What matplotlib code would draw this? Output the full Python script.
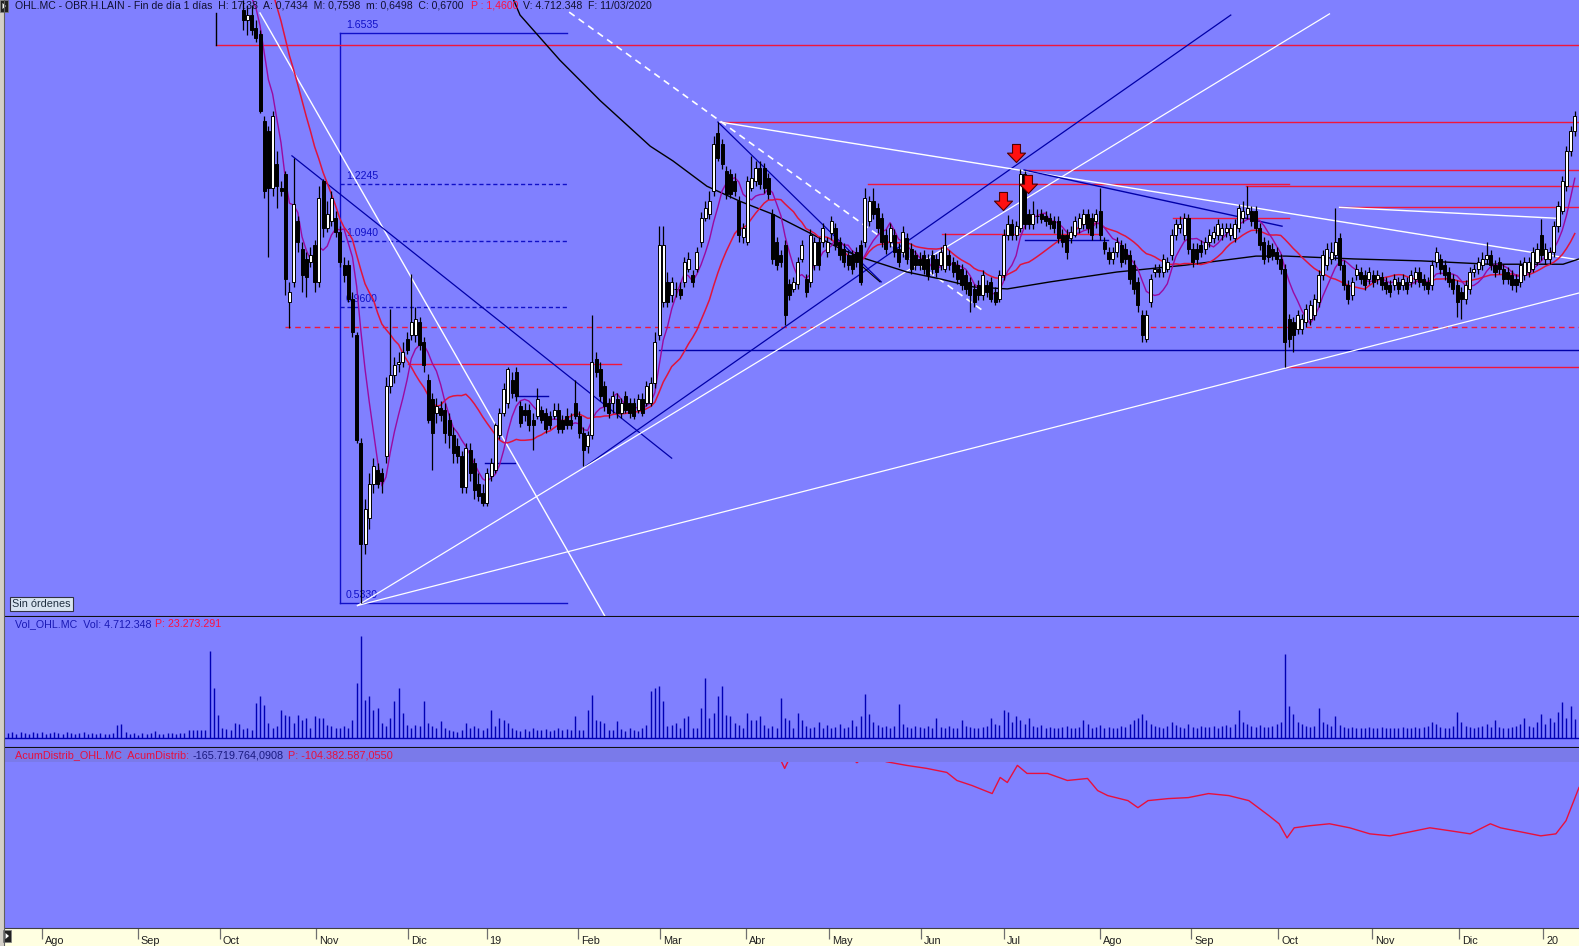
import numpy as np
import pandas as pd
import matplotlib
matplotlib.use("Agg")
import matplotlib.pyplot as plt
from matplotlib.path import Path
from matplotlib.patches import Rectangle, Polygon

W, H, DPI = 1579, 946, 100
FONT = ["Liberation Sans", "DejaVu Sans"]
PANEL = "#8080ff"
BAND = "#7a7aea"
RED = "#f0163c"
DBLUE = "#0000a8"
FIBBLUE = "#1010c8"
TXT = "#101030"

# ---- daily bars, index 0 = late Jul 2018 ----
OPEN = [
    2.60, 2.62, 2.64, 2.60, 2.58, 2.61, 2.66, 2.70, 2.68, 2.72,
    2.75, 2.73, 2.70, 2.68, 2.71, 2.74, 2.76, 2.72, 2.69, 2.66,
    2.64, 2.67, 2.70, 2.68, 2.65, 2.62, 2.60, 2.55, 2.50, 2.52,
    2.54, 2.56, 2.53, 2.50, 2.48, 2.51, 2.49, 2.46, 2.44, 2.42,
    2.40, 2.38, 2.35, 2.32, 2.28, 2.24, 2.20, 2.15, 2.10, 2.05,
    2.00, 1.95, 1.90, 1.87, 1.85, 1.82, 1.731, 1.697, 1.714, 1.670,
    1.650, 1.389, 1.362, 1.215, 1.275, 1.215, 1.250, 0.969, 1.009, 1.138,
    1.078, 1.056, 1.050, 1.086, 1.009, 1.232, 1.122, 1.138, 1.145, 1.115,
    1.044, 1.044, 0.975, 0.908, 0.733, 0.600, 0.631, 0.676, 0.694, 0.690,
    0.714, 0.821, 0.838, 0.857, 0.860, 0.900, 0.908, 0.908, 0.931, 0.895,
    0.831, 0.799, 0.778, 0.786, 0.783, 0.767, 0.744, 0.729, 0.714, 0.672,
    0.722, 0.704, 0.676, 0.663, 0.650, 0.686, 0.694, 0.744, 0.778, 0.794,
    0.831, 0.843, 0.789, 0.783, 0.783, 0.767, 0.773, 0.783, 0.778, 0.773,
    0.773, 0.783, 0.767, 0.773, 0.767, 0.794, 0.773, 0.748, 0.729, 0.744,
    0.865, 0.848, 0.821, 0.794, 0.794, 0.799, 0.778, 0.805, 0.794, 0.794,
    0.783, 0.799, 0.794, 0.794, 0.826, 0.908, 0.969, 1.009, 0.983, 0.995,
    0.995, 1.009, 1.035, 1.023, 1.035, 1.093, 1.145, 1.154, 1.208, 1.356,
    1.327, 1.257, 1.250, 1.232, 1.184, 1.102, 1.093, 1.215, 1.232, 1.265,
    1.265, 1.240, 1.154, 1.093, 1.065, 1.086, 1.005, 0.995, 1.005, 1.056,
    1.015, 1.009, 1.044, 1.093, 1.093, 1.071, 1.111, 1.122, 1.093, 1.078,
    1.065, 1.065, 1.071, 1.086, 1.093, 1.138, 1.184, 1.168, 1.145, 1.108,
    1.093, 1.108, 1.078, 1.071, 1.100, 1.078, 1.065, 1.056, 1.065, 1.056,
    1.065, 1.056, 1.044, 1.035, 1.065, 1.050, 1.044, 1.035, 1.023, 1.009,
    0.995, 1.003, 0.983, 1.003, 1.009, 0.989, 0.975, 1.023, 1.108, 1.131,
    1.108, 1.122, 1.250, 1.154, 1.131, 1.150, 1.154, 1.150, 1.145, 1.138,
    1.138, 1.108, 1.108, 1.100, 1.108, 1.122, 1.131, 1.154, 1.145, 1.138,
    1.161, 1.093, 1.071, 1.056, 1.071, 1.086, 1.078, 1.065, 1.044, 1.009,
    0.944, 0.900, 0.969, 1.029, 1.035, 1.029, 1.035, 1.065, 1.108, 1.122,
    1.108, 1.145, 1.078, 1.078, 1.086, 1.078, 1.093, 1.100, 1.108, 1.108,
    1.115, 1.108, 1.100, 1.122, 1.145, 1.154, 1.161, 1.161, 1.122, 1.093,
    1.086, 1.078, 1.071, 1.056, 1.035, 0.937, 0.931, 0.919, 0.919, 0.931,
    0.937, 0.944, 0.969, 1.023, 1.044, 1.056, 1.065, 1.100, 1.044, 1.003,
    0.983, 1.023, 1.029, 1.023, 1.015, 1.023, 1.015, 1.019, 1.009, 1.003,
    1.003, 1.009, 1.003, 1.009, 1.009, 1.015, 1.029, 1.015, 1.009, 1.003,
    1.050, 1.056, 1.044, 1.029, 1.015, 1.003, 0.989, 0.975, 0.995, 1.029,
    1.035, 1.044, 1.056, 1.065, 1.044, 1.050, 1.035, 1.029, 1.023, 1.015,
    1.009, 1.023, 1.029, 1.035, 1.050, 1.108, 1.056, 1.056, 1.071, 1.127,
    1.161, 1.220, 1.309, 1.362,
]
HIGH = [
    2.65, 2.67, 2.67, 2.63, 2.64, 2.69, 2.73, 2.73, 2.75, 2.78,
    2.78, 2.76, 2.73, 2.74, 2.77, 2.79, 2.79, 2.75, 2.72, 2.69,
    2.70, 2.73, 2.73, 2.71, 2.68, 2.65, 2.63, 2.58, 2.55, 2.57,
    2.59, 2.59, 2.56, 2.53, 2.54, 2.54, 2.52, 2.49, 2.47, 2.45,
    2.43, 2.41, 2.38, 2.35, 2.31, 2.27, 2.23, 2.18, 2.13, 2.08,
    2.03, 1.98, 1.93, 1.90, 1.88, 1.85, 1.766, 1.748, 1.748, 1.697,
    1.663, 1.403, 1.375, 1.418, 1.309, 1.232, 1.257, 1.009, 1.291, 1.150,
    1.093, 1.071, 1.082, 1.097, 1.220, 1.237, 1.184, 1.208, 1.161, 1.127,
    1.061, 1.054, 0.989, 0.913, 0.740, 0.656, 0.690, 0.711, 0.704, 0.697,
    0.835, 0.956, 0.869, 0.877, 0.895, 0.913, 1.025, 0.960, 0.941, 0.904,
    0.840, 0.810, 0.802, 0.797, 0.794, 0.778, 0.756, 0.740, 0.721, 0.733,
    0.733, 0.711, 0.690, 0.676, 0.697, 0.711, 0.763, 0.786, 0.826, 0.852,
    0.843, 0.852, 0.797, 0.794, 0.791, 0.778, 0.818, 0.789, 0.786, 0.781,
    0.794, 0.794, 0.775, 0.786, 0.778, 0.831, 0.781, 0.756, 0.751, 0.944,
    0.877, 0.860, 0.829, 0.802, 0.813, 0.810, 0.802, 0.813, 0.802, 0.802,
    0.807, 0.810, 0.829, 0.835, 0.913, 1.127, 1.127, 1.029, 1.019, 1.009,
    1.009, 1.061, 1.071, 1.033, 1.082, 1.159, 1.184, 1.208, 1.348, 1.386,
    1.340, 1.270, 1.262, 1.252, 1.196, 1.134, 1.245, 1.296, 1.283, 1.283,
    1.278, 1.252, 1.166, 1.104, 1.076, 1.097, 1.015, 1.019, 1.061, 1.097,
    1.025, 1.120, 1.104, 1.104, 1.134, 1.104, 1.150, 1.134, 1.104, 1.089,
    1.076, 1.076, 1.082, 1.097, 1.215, 1.196, 1.215, 1.179, 1.157, 1.120,
    1.134, 1.120, 1.089, 1.127, 1.111, 1.089, 1.076, 1.071, 1.076, 1.067,
    1.076, 1.067, 1.082, 1.111, 1.076, 1.061, 1.054, 1.046, 1.033, 1.019,
    1.005, 1.013, 1.033, 1.013, 1.019, 0.999, 1.033, 1.120, 1.152, 1.143,
    1.138, 1.262, 1.257, 1.166, 1.184, 1.166, 1.166, 1.161, 1.157, 1.150,
    1.150, 1.120, 1.120, 1.127, 1.150, 1.157, 1.166, 1.166, 1.157, 1.166,
    1.215, 1.104, 1.082, 1.082, 1.104, 1.097, 1.089, 1.076, 1.054, 1.019,
    0.954, 0.954, 1.025, 1.046, 1.046, 1.067, 1.061, 1.120, 1.143, 1.150,
    1.157, 1.154, 1.089, 1.089, 1.097, 1.104, 1.120, 1.127, 1.143, 1.134,
    1.134, 1.134, 1.143, 1.177, 1.184, 1.220, 1.173, 1.173, 1.134, 1.104,
    1.097, 1.089, 1.082, 1.067, 1.046, 0.946, 0.941, 0.954, 0.946, 0.965,
    0.973, 0.985, 1.033, 1.076, 1.089, 1.093, 1.168, 1.111, 1.054, 1.013,
    1.019, 1.046, 1.040, 1.033, 1.040, 1.033, 1.033, 1.029, 1.019, 1.013,
    1.025, 1.019, 1.025, 1.019, 1.033, 1.040, 1.040, 1.025, 1.019, 1.054,
    1.082, 1.067, 1.054, 1.040, 1.025, 1.013, 0.999, 1.013, 1.040, 1.046,
    1.061, 1.071, 1.093, 1.076, 1.054, 1.061, 1.046, 1.040, 1.033, 1.025,
    1.054, 1.061, 1.061, 1.082, 1.089, 1.143, 1.089, 1.082, 1.138, 1.184,
    1.245, 1.322, 1.375, 1.418,
]
LOW = [
    2.57, 2.59, 2.57, 2.55, 2.55, 2.58, 2.63, 2.65, 2.65, 2.69,
    2.70, 2.67, 2.65, 2.65, 2.68, 2.71, 2.69, 2.66, 2.63, 2.61,
    2.61, 2.64, 2.65, 2.62, 2.59, 2.57, 2.52, 2.47, 2.47, 2.49,
    2.51, 2.50, 2.47, 2.45, 2.45, 2.46, 2.43, 2.41, 2.39, 2.37,
    2.35, 2.32, 2.29, 2.25, 2.21, 2.17, 2.12, 2.07, 2.02, 1.97,
    1.92, 1.87, 1.84, 1.82, 1.79, 1.77, 1.663, 1.647, 1.647, 1.624,
    1.412, 1.191, 1.061, 1.196, 1.168, 1.196, 0.983, 0.920, 0.999, 1.071,
    0.989, 0.979, 1.040, 0.989, 0.999, 1.104, 1.115, 1.127, 1.104, 1.040,
    1.009, 0.969, 0.904, 0.733, 0.533, 0.588, 0.618, 0.663, 0.670, 0.663,
    0.704, 0.810, 0.826, 0.843, 0.852, 0.874, 0.899, 0.895, 0.881, 0.843,
    0.763, 0.694, 0.763, 0.766, 0.733, 0.725, 0.704, 0.704, 0.663, 0.663,
    0.679, 0.656, 0.653, 0.646, 0.646, 0.679, 0.690, 0.739, 0.773, 0.786,
    0.802, 0.797, 0.756, 0.766, 0.751, 0.722, 0.769, 0.763, 0.748, 0.754,
    0.769, 0.748, 0.748, 0.754, 0.754, 0.769, 0.740, 0.700, 0.718, 0.739,
    0.835, 0.797, 0.781, 0.770, 0.778, 0.770, 0.770, 0.778, 0.770, 0.769,
    0.778, 0.773, 0.789, 0.789, 0.818, 0.899, 0.960, 0.960, 0.969, 0.979,
    0.975, 0.999, 1.029, 0.999, 1.029, 1.082, 1.138, 1.143, 1.196, 1.283,
    1.262, 1.189, 1.191, 1.196, 1.093, 1.089, 1.086, 1.208, 1.220, 1.213,
    1.203, 1.189, 1.046, 1.033, 1.040, 0.926, 0.973, 0.989, 0.995, 1.050,
    0.979, 0.999, 1.033, 1.033, 1.082, 1.061, 1.097, 1.076, 1.054, 1.040,
    1.033, 1.025, 1.040, 1.003, 1.082, 1.127, 1.143, 1.111, 1.082, 1.067,
    1.082, 1.061, 1.040, 1.061, 1.046, 1.025, 1.033, 1.033, 1.025, 1.013,
    1.025, 1.019, 1.033, 1.029, 1.033, 1.019, 1.005, 0.993, 0.985, 0.950,
    0.960, 0.973, 0.973, 0.979, 0.969, 0.963, 0.969, 1.013, 1.097, 1.097,
    1.097, 1.115, 1.120, 1.120, 1.120, 1.134, 1.134, 1.127, 1.120, 1.111,
    1.089, 1.082, 1.056, 1.089, 1.102, 1.111, 1.120, 1.111, 1.097, 1.122,
    1.097, 1.067, 1.046, 1.046, 1.061, 1.040, 1.046, 1.005, 0.985, 0.950,
    0.895, 0.895, 0.960, 1.019, 1.019, 1.019, 1.029, 1.054, 1.097, 1.111,
    1.097, 1.067, 1.040, 1.046, 1.061, 1.067, 1.082, 1.089, 1.097, 1.097,
    1.104, 1.097, 1.093, 1.115, 1.134, 1.143, 1.127, 1.111, 1.076, 1.046,
    1.050, 1.054, 1.046, 1.025, 0.852, 0.886, 0.877, 0.910, 0.910, 0.922,
    0.927, 0.935, 0.960, 1.013, 1.033, 1.046, 1.054, 1.033, 0.993, 0.965,
    0.973, 1.013, 1.005, 0.993, 1.005, 0.999, 1.005, 0.993, 0.985, 0.979,
    0.993, 0.985, 0.993, 0.985, 0.999, 1.005, 0.999, 0.993, 0.985, 0.993,
    1.040, 1.025, 1.013, 0.999, 0.985, 0.941, 0.937, 0.965, 0.985, 1.019,
    1.025, 1.033, 1.046, 1.033, 1.019, 1.025, 1.005, 1.005, 0.993, 0.989,
    0.999, 1.013, 1.019, 1.029, 1.044, 1.054, 1.046, 1.046, 1.061, 1.115,
    1.154, 1.208, 1.296, 1.348,
]
CLOSE = [
    2.62, 2.64, 2.60, 2.58, 2.61, 2.66, 2.70, 2.68, 2.72, 2.75,
    2.73, 2.70, 2.68, 2.71, 2.74, 2.76, 2.72, 2.69, 2.66, 2.64,
    2.67, 2.70, 2.68, 2.65, 2.62, 2.60, 2.55, 2.50, 2.52, 2.54,
    2.56, 2.53, 2.50, 2.48, 2.51, 2.49, 2.46, 2.44, 2.42, 2.40,
    2.38, 2.35, 2.32, 2.28, 2.24, 2.20, 2.15, 2.10, 2.05, 2.00,
    1.95, 1.90, 1.87, 1.85, 1.82, 1.80, 1.697, 1.714, 1.663, 1.637,
    1.418, 1.208, 1.215, 1.403, 1.220, 1.208, 1.015, 0.989, 1.177, 1.093,
    1.023, 1.019, 1.065, 1.009, 1.191, 1.122, 1.154, 1.191, 1.115, 1.050,
    1.023, 0.975, 0.913, 0.737, 0.600, 0.643, 0.676, 0.700, 0.676, 0.679,
    0.821, 0.838, 0.855, 0.860, 0.877, 0.882, 0.931, 0.937, 0.890, 0.855,
    0.767, 0.748, 0.789, 0.775, 0.748, 0.744, 0.718, 0.714, 0.672, 0.725,
    0.690, 0.667, 0.659, 0.650, 0.690, 0.704, 0.759, 0.778, 0.815, 0.848,
    0.810, 0.805, 0.763, 0.775, 0.759, 0.759, 0.799, 0.767, 0.753, 0.759,
    0.783, 0.753, 0.753, 0.759, 0.759, 0.773, 0.748, 0.722, 0.744, 0.860,
    0.843, 0.805, 0.789, 0.778, 0.805, 0.778, 0.794, 0.783, 0.778, 0.773,
    0.799, 0.778, 0.821, 0.826, 0.895, 1.086, 1.086, 0.969, 1.009, 0.995,
    0.983, 1.050, 1.056, 1.009, 1.071, 1.145, 1.168, 1.184, 1.327, 1.291,
    1.275, 1.201, 1.201, 1.208, 1.108, 1.122, 1.232, 1.240, 1.265, 1.225,
    1.215, 1.201, 1.056, 1.044, 1.050, 0.944, 0.983, 1.009, 1.050, 1.086,
    0.989, 1.108, 1.093, 1.044, 1.122, 1.093, 1.138, 1.086, 1.065, 1.050,
    1.044, 1.035, 1.050, 1.009, 1.191, 1.184, 1.154, 1.122, 1.093, 1.078,
    1.122, 1.071, 1.050, 1.115, 1.056, 1.035, 1.044, 1.044, 1.035, 1.023,
    1.035, 1.029, 1.071, 1.086, 1.044, 1.029, 1.015, 1.003, 0.995, 0.983,
    0.969, 0.983, 1.023, 0.989, 0.975, 0.969, 1.023, 1.108, 1.131, 1.108,
    1.127, 1.250, 1.131, 1.131, 1.154, 1.150, 1.143, 1.138, 1.131, 1.122,
    1.100, 1.093, 1.071, 1.115, 1.138, 1.145, 1.154, 1.122, 1.108, 1.154,
    1.108, 1.078, 1.056, 1.071, 1.093, 1.050, 1.056, 1.015, 0.995, 0.963,
    0.908, 0.944, 1.015, 1.035, 1.029, 1.056, 1.050, 1.108, 1.131, 1.131,
    1.145, 1.078, 1.050, 1.056, 1.071, 1.093, 1.108, 1.115, 1.131, 1.122,
    1.122, 1.122, 1.131, 1.168, 1.161, 1.168, 1.138, 1.122, 1.086, 1.056,
    1.061, 1.065, 1.056, 1.035, 0.895, 0.900, 0.908, 0.944, 0.937, 0.956,
    0.963, 0.975, 1.023, 1.065, 1.078, 1.071, 1.093, 1.044, 1.003, 0.975,
    1.009, 1.035, 1.015, 1.003, 1.029, 1.009, 1.023, 1.003, 0.995, 0.989,
    1.015, 0.995, 1.015, 0.995, 1.023, 1.029, 1.009, 1.003, 0.995, 1.044,
    1.071, 1.035, 1.023, 1.009, 0.995, 0.969, 0.975, 1.003, 1.029, 1.035,
    1.050, 1.056, 1.065, 1.044, 1.029, 1.035, 1.015, 1.015, 1.003, 1.003,
    1.044, 1.050, 1.050, 1.071, 1.078, 1.065, 1.078, 1.071, 1.127, 1.172,
    1.232, 1.309, 1.362, 1.403,
]
# volume, millions of shares
VOLUME = [
    1.2, 1.5, 1.0, 1.6, 1.3, 1.1, 1.4, 1.2, 1.5, 1.0,
    1.3, 1.6, 1.2, 1.1, 1.4, 1.3, 1.0, 1.2, 1.5, 1.1,
    1.3, 0.9, 1.2, 1.0, 1.1, 1.3, 3.3, 3.6, 1.5, 1.0,
    1.2, 0.8, 1.3, 1.0, 1.2, 1.7, 1.1, 1.0, 1.3, 1.2,
    1.1, 1.3, 1.2, 1.9, 2.0, 2.1, 2.0, 1.9, 21.7, 12.5,
    5.8, 2.5, 2.3, 2.0, 3.7, 3.5, 2.2, 2.5, 2.0, 8.8,
    10.4, 8.3, 3.7, 2.5, 2.9, 7.0, 5.8, 5.4, 3.7, 5.8,
    4.6, 5.0, 2.5, 5.4, 5.0, 5.0, 3.3, 2.9, 2.5, 2.5,
    2.9, 2.5, 4.6, 13.7, 25.4, 9.6, 10.4, 7.0, 7.5, 3.7,
    2.9, 5.0, 9.2, 12.5, 6.3, 3.3, 2.5, 3.3, 2.9, 9.2,
    3.7, 3.0, 2.5, 4.2, 2.5, 2.0, 1.7, 1.5, 2.0, 3.7,
    2.5, 2.9, 2.5, 2.0, 2.5, 7.0, 2.9, 5.0, 4.6, 3.7,
    2.5, 2.0, 1.8, 2.2, 1.7, 2.4, 2.0, 1.9, 2.3, 1.8,
    2.1, 2.5, 1.9, 2.2, 2.0, 5.4, 2.0, 2.0, 7.0, 10.8,
    4.6, 4.2, 3.7, 2.0, 2.0, 4.2, 2.2, 1.8, 2.5, 2.0,
    1.7, 2.4, 3.3, 11.7, 12.5, 12.9, 9.2, 2.9, 3.3, 3.7,
    2.5, 5.0, 5.4, 2.5, 2.5, 7.5, 15.0, 5.0, 6.3, 10.4,
    12.9, 5.8, 5.4, 3.7, 3.3, 2.5, 6.3, 4.6, 4.6, 5.4,
    3.3, 2.5, 2.9, 2.5, 10.0, 5.0, 4.6, 2.5, 6.3, 4.6,
    3.0, 2.5, 2.8, 4.0, 2.6, 3.2, 2.4, 2.8, 3.5, 2.6,
    2.8, 4.5, 3.0, 5.5, 11.0, 6.0, 4.0, 3.2, 2.8, 3.0,
    2.6, 3.0, 8.5, 3.5, 2.8, 2.5, 3.0, 2.7, 2.4, 3.1,
    2.5, 5.0, 2.8, 2.6, 3.0, 2.4, 2.6, 4.5, 3.0, 2.8,
    2.6, 2.5, 2.8, 3.0, 5.0, 3.5, 3.2, 7.0, 6.5, 4.0,
    5.5, 4.5, 3.5, 5.0, 3.0, 2.8, 3.2, 2.6, 2.8, 2.5,
    2.6, 2.8, 3.0, 2.5, 2.4, 2.7, 4.5, 3.5, 2.6, 2.8,
    3.2, 2.6, 2.8, 2.5, 2.6, 3.0, 2.8, 3.5, 4.5, 5.0,
    6.0, 4.5, 3.5, 3.0, 2.8, 2.6, 3.0, 4.0, 3.2, 2.8,
    2.6, 3.5, 2.8, 2.6, 3.0, 2.7, 2.8, 3.0, 2.6, 2.9,
    3.2, 2.8, 3.5, 7.0, 4.0, 3.5, 3.0, 2.8, 3.3, 2.7,
    2.8, 3.0, 3.5, 4.0, 21.0, 8.0, 6.0, 4.0, 3.5, 3.0,
    2.8, 3.0, 7.5, 4.0, 3.5, 3.0, 5.5, 3.2, 2.8, 2.6,
    2.8, 2.5, 2.6, 2.4, 2.7, 2.5, 2.6, 2.8, 2.4, 2.5,
    2.6, 2.4, 2.7, 2.5, 2.6, 2.8, 2.5, 2.7, 3.0, 4.0,
    3.5, 2.8, 2.6, 2.5, 3.0, 6.5, 4.0, 3.0, 2.8, 2.6,
    2.7, 3.0, 3.5, 2.8, 4.5, 2.8, 2.6, 2.5, 2.7, 3.0,
    3.5, 5.0, 3.0, 2.8, 4.0, 6.0, 3.5, 5.0, 4.0, 6.5,
    9.0, 5.0, 8.0, 4.7,
]

MONTH_START = [8.1, 30.9, 50.5, 73.3, 95.2, 114.0, 135.7, 155.2, 175.7,
               195.5, 217.4, 237.2, 260.0, 281.7, 302.4, 324.8, 345.5, 365.5]
MONTH_LABELS = ["Ago", "Sep", "Oct", "Nov", "Dic", "19", "Feb", "Mar", "Abr",
                "May", "Jun", "Jul", "Ago", "Sep", "Oct", "Nov", "Dic", "20"]

# long moving average (black), traced
LONG_MA_IDX = [118.0, 121.9, 131.4, 141.0, 152.9, 158.3, 166.4, 174.3, 182.1, 190.2,
               198.1, 202.9, 214.0, 221.9, 229.8, 237.9, 248.1, 264.0, 280.2, 297.1,
               304.3, 320.5, 336.4, 352.6, 370.2, 374.0]
LONG_MA_VAL = [1.85, 1.714, 1.567, 1.446, 1.321, 1.283, 1.220, 1.184, 1.154, 1.115,
               1.078, 1.060, 1.029, 1.015, 0.999, 0.995, 1.009, 1.029, 1.043, 1.062,
               1.062, 1.056, 1.052, 1.045, 1.045, 1.056]

# AcumDistrib line (millions)
AD_IDX = [175.0, 183.5, 184.9, 186.3, 195.0, 201.0, 202.1, 203.2, 207.0, 209.1,
          213.9, 218.7, 223.5, 225.9, 229.5, 234.3, 236.2, 237.9, 240.3, 242.6,
          247.5, 252.2, 257.0, 259.4, 261.8, 266.6, 269.0, 271.4, 276.2, 281.0,
          285.8, 290.6, 295.4, 300.2, 302.6, 304.5, 306.2, 309.8, 314.6, 319.4,
          324.2, 329.0, 333.8, 338.5, 343.4, 348.1, 352.9, 355.3, 360.1, 364.9,
          368.5, 370.9, 374.0]
AD_VAL = [-80.0, -95.0, -104.8, -95.0, -85.0, -97.0, -100.3, -97.0, -97.0, -99.5,
          -102.4, -104.8, -108.0, -114.4, -118.4, -124.8, -112.0, -116.0, -102.4, -108.8,
          -108.8, -114.4, -112.8, -122.4, -126.4, -130.4, -136.0, -130.4, -128.8, -128.0,
          -124.8, -126.4, -130.4, -142.4, -148.8, -160.0, -152.0, -150.4, -148.8, -152.0,
          -156.8, -158.4, -155.2, -152.0, -154.4, -156.8, -148.8, -152.0, -155.2, -158.4,
          -156.8, -146.4, -120.0]

# Fibonacci retracement drawn on the Nov-2018 swing
FIB_LEVELS = [1.6535, 1.2245, 1.0940, 0.9600, 0.5330]
FIB_LABELS = ["1.6535", "1.2245", "1.0940", "0.9600", "0.5330"]
FIB_START, FIB_END = 79.1, 133.1

# horizontal drawings: price, start bar, end bar, colour, style
HLINES = [
    (1.615, 49.6, 374.0, RED, "-"),
    (0.922, 66.0, 374.0, RED, (0, (4, 3))),
    (0.881, 155.1, 374.0, DBLUE, "-"),
    (0.857, 95.2, 146.0, RED, "-"),
    (0.704, 113.6, 120.7, DBLUE, "-"),
    (0.805, 120.7, 128.6, DBLUE, "-"),
    (1.386, 169.5, 374.0, RED, "-"),
    (1.225, 204.8, 305.0, RED, "-"),
    (1.260, 242.2, 374.0, RED, "-"),
    (1.220, 294.7, 374.0, RED, "-"),
    (1.170, 317.0, 374.0, RED, "-"),
    (1.145, 277.4, 305.0, RED, "-"),
    (1.110, 222.3, 259.4, RED, "-"),
    (1.097, 242.2, 261.8, DBLUE, "-"),
    (0.852, 304.5, 374.0, RED, "-"),
]
# sloped drawings: bar0, price0, bar1, price1, colour, style, width
LINES = [
    (60.0, 1.721, 142.7, 0.515, "white", "-", 1.0),
    (67.6, 1.296, 158.0, 0.711, DBLUE, "-", 0.9),
    (137.6, 0.700, 291.1, 1.714, DBLUE, "-", 0.9),
    (83.2, 0.5306, 314.6, 1.718, "white", "-", 0.9),
    (83.2, 0.5306, 374.0, 0.987, "white", "-", 0.9),
    (133.6, 1.724, 231.9, 0.954, "white", (0, (4, 3)), 1.2),
    (169.0, 1.386, 207.9, 1.009, DBLUE, "-", 0.9),
    (169.5, 1.386, 374.0, 1.054, "white", "-", 1.0),
    (317.0, 1.170, 368.5, 1.145, "white", "-", 1.0),
    (241.9, 1.260, 303.3, 1.127, DBLUE, "-", 1.0),
    (202.9, 1.044, 207.6, 1.009, "black", "-", 0.8),
    (49.6, 1.615, 49.6, 1.721, "black", "-", 1.0),
]
ARROW_IDX = [236.9, 240.0, 242.9]
ARROW_VAL = [1.184, 1.304, 1.225]

XLIM = (-0.71, 374.0)

fig = plt.figure(figsize=(W / DPI, H / DPI), dpi=DPI, facecolor="#d4d0c8")


def rect(left, top, right, bottom):
    return [left / W, 1 - bottom / H, (right - left) / W, (bottom - top) / H]


def panel(top, bottom, face=PANEL):
    ax = fig.add_axes(rect(5, top, W, bottom))
    ax.set_facecolor(face)
    ax.set_xticks([]); ax.set_yticks([])
    for s in ax.spines.values():
        s.set_visible(False)
    ax.set_xlim(*XLIM)
    return ax


def rich(x0, x1, y, parts, gap=5):
    """Coloured text pieces stretched to span x0..x1 pixels."""
    r = fig.canvas.get_renderer()
    widths = []
    for s, _ in parts:
        t = fig.text(0, 0, s, fontsize=10, family=FONT)
        widths.append(t.get_window_extent(renderer=r).width)
        t.remove()
    k = (x1 - x0 - gap * (len(parts) - 1)) / sum(widths)
    x = x0
    for (s, c), w in zip(parts, widths):
        fig.text(x / W, 1 - y / H, s, fontsize=10 * k, color=c, family=FONT,
                 va="center", ha="left")
        x += w * k + gap


idx = np.arange(len(CLOSE))
o, h, l, c = (np.array(a) for a in (OPEN, HIGH, LOW, CLOSE))

# ── price panel ──
ax = panel(0, 616)
ax.set_yscale("log")
ax.set_ylim(0.5197, 1.766)
ax.minorticks_off(); ax.set_yticks([])
ax.spines["bottom"].set_visible(True); ax.spines["bottom"].set_color("#101010")

for lvl, lab in zip(FIB_LEVELS, FIB_LABELS):
    ls = "-" if lab in ("1.6535", "0.5330") else (0, (3, 2))
    ax.plot([FIB_START, FIB_END], [lvl, lvl], color=FIBBLUE, lw=1.0, ls=ls, zorder=1)
    ax.annotate(lab, (FIB_START, lvl), xytext=(4, 6), textcoords="offset points",
                fontsize=7.6, color=FIBBLUE, family=FONT, va="center", zorder=1)
ax.plot([FIB_START, FIB_START], [FIB_LEVELS[-1], FIB_LEVELS[0]], color=FIBBLUE, lw=1.0, zorder=1)

for p, a, b, col, ls in HLINES:
    ax.plot([a, b], [p, p], color=col, lw=1.0, ls=ls, zorder=2)
for a, pa, b, pb, col, ls, lw in LINES:
    ax.plot([a, b], [pa, pb], color=col, lw=lw, ls=ls, zorder=2)

ax.plot(LONG_MA_IDX, LONG_MA_VAL, color="black", lw=1.0, zorder=3)
cs = pd.Series(c)
ax.plot(idx, cs.rolling(20).mean(), color="#e0143c", lw=1.1, zorder=3)
ax.plot(idx, cs.rolling(7).mean(), color="#9a0aa0", lw=1.0, zorder=3)

up = c >= o
ax.vlines(idx, l, h, color="black", lw=0.9, zorder=4)
ax.bar(idx[up], (c - o)[up], bottom=o[up], width=0.72, color="white",
       edgecolor="black", lw=0.7, zorder=5)
ax.bar(idx[~up], (o - c)[~up], bottom=c[~up], width=0.72, color="black",
       edgecolor="black", lw=0.7, zorder=5)

arrow = Path([(-0.22, 0.5), (0.22, 0.5), (0.22, 0.02), (0.5, 0.02), (0, -0.5),
              (-0.5, 0.02), (-0.22, 0.02), (-0.22, 0.5)],
             [Path.MOVETO] + [Path.LINETO] * 6 + [Path.CLOSEPOLY])
ax.plot(ARROW_IDX, ARROW_VAL, ls="none", marker=arrow, ms=13, mfc="#ff1010",
        mec="#500000", mew=0.8, zorder=6)

ax.text(12 / (W - 5) - 0.0, 0, "", transform=ax.transAxes)
box = ax.text(0.00475, 0.0115, "Sin órdenes", transform=ax.transAxes, fontsize=7.8,
              family=FONT, color="#203040", va="bottom", ha="left", zorder=7,
              bbox=dict(boxstyle="square,pad=0.2", fc="#d8e4f0", ec="#303040", lw=0.8))

# ── volume panel ──
av = panel(617, 747)
av.set_ylim(-2.25, 30.25)
av.vlines(idx, 0, VOLUME, color="#0000b4", lw=1.0)
av.axhline(0, color="#0000b4", lw=1.0)
av.spines["bottom"].set_visible(True); av.spines["bottom"].set_color("#101010")

# ── accumulation / distribution panel ──
aa = panel(748, 928)
aa.set_ylim(-231.6, -88.6)
aa.plot(AD_IDX, AD_VAL, color="#e8103c", lw=1.0, zorder=2)
aa.add_patch(Rectangle((0, (928 - 762) / 180), 1, 1, transform=aa.transAxes,
                       fc=BAND, ec="none", zorder=3))

# ── time axis ──
at = panel(928, H, face="#ffffe1")
at.set_ylim(18, 0)
at.spines["top"].set_visible(True); at.spines["top"].set_color("#404040")
at.vlines(MONTH_START, 0, 11, color="#707070", lw=0.9)
for m, lab in zip(MONTH_START, MONTH_LABELS):
    at.annotate(lab, (m, 12.5), xytext=(2, 0), textcoords="offset points",
                fontsize=7.8, family=FONT, color="#202020", va="center", ha="left")

# left border and small scroll icons
fig.add_artist(plt.Line2D([4 / W, 4 / W], [0, 1], color="#606060", lw=0.8))
for (x0, y0) in [(0, 0), (3, 930)]:
    fig.add_artist(Rectangle((x0 / W, 1 - (y0 + 12) / H), 8 / W, 12 / H,
                             fc="#202020", ec="#808080", lw=0.5))
    fig.add_artist(Polygon([((x0 + 2.5) / W, 1 - (y0 + 3) / H),
                            ((x0 + 2.5) / W, 1 - (y0 + 9) / H),
                            ((x0 + 6) / W, 1 - (y0 + 6) / H)], fc="white", ec="none"))

# ── headers ──
rich(15, 653, 6, [
    ("OHL.MC - OBR.H.LAIN - Fin de día 1 días  H: 17:38  A: 0,7434  M: 0,7598  "
     "m: 0,6498  C: 0,6700", TXT),
    ("P : 1,4600", "#ff1040"),
    ("V: 4.712.348  F: 11/03/2020", TXT)])
rich(15, 222, 624, [("Vol_OHL.MC  Vol: 4.712.348", "#1a1ab4"),
                    ("P: 23.273.291", "#ff1040")], gap=4)
rich(15, 392, 755, [("AcumDistrib_OHL.MC  AcumDistrib:", "#e8103c"),
                    ("-165.719.764,0908", "#1a1a80"),
                    ("P: -104.382.587,0550", "#e8103c")], gap=4)

fig.savefig("out.png", dpi=DPI, facecolor=fig.get_facecolor())
